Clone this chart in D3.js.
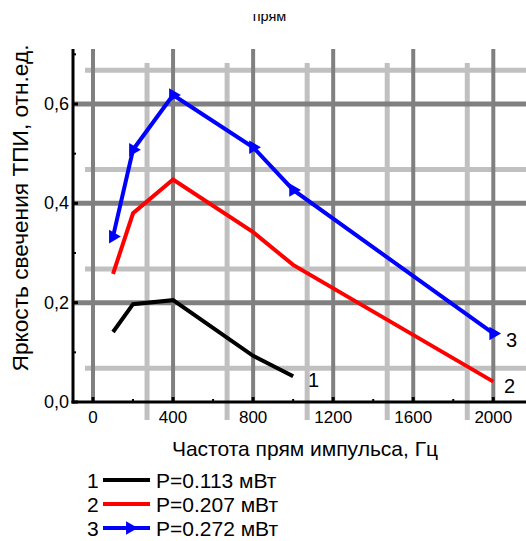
<!DOCTYPE html>
<html><head><meta charset="utf-8">
<script src="https://cdn.jsdelivr.net/npm/d3@7"></script>
<style>
html,body{margin:0;padding:0;background:#fff;}
svg{display:block;font-family:"Liberation Sans",Arial,sans-serif;}
</style></head>
<body>
<svg id="c" width="526" height="541"></svg>
<script>
const freq = [100, 200, 400, 800, 1000, 2000];
const s1 = [0.141, 0.197, 0.205, 0.093, 0.052];
const s2 = [0.258, 0.380, 0.448, 0.342, 0.276, 0.041];
const s3 = [0.333, 0.508, 0.618, 0.513, 0.427, 0.138];
const seriesNames = ["P=0.113 мВт", "P=0.207 мВт", "P=0.272 мВт"];
const seriesIds = ["1", "2", "3"];
const seriesColors = ["#000000", "#ff0000", "#0000ff"];
const xTicks = [0, 400, 800, 1200, 1600, 2000];
const xMinor = [200, 600, 1000, 1400, 1800];
const yTicks = [0.0, 0.2, 0.4, 0.6];
const yTickLabels = ["0,0", "0,2", "0,4", "0,6"];
const yMinor = [0.1, 0.3, 0.5, 0.7];
const lightV = [270, 670, 1070, 1470, 1870];
const lightH = [0.068, 0.268, 0.468, 0.668];
const title = "прям";
const xLabel = "Частота прям импульса, Гц";
const yLabel = "Яркость свечения ТПИ, отн.ед.";

const svg = d3.select("#c");
const x = d3.scaleLinear().domain([0, 2000]).range([93, 493.3]);
const y = d3.scaleLinear().domain([0, 0.6]).range([402, 104]);
const xMinD = x.invert(73);
const yTopD = y.invert(49);

// title (clipped at top)
svg.append("clipPath").attr("id","tc").append("rect").attr("x",0).attr("y",14).attr("width",526).attr("height",20);
svg.append("text").attr("clip-path","url(#tc)").attr("x",269.5).attr("y",21).attr("text-anchor","middle")
  .attr("font-size",14.5).text(title);

// light grid
const g = svg.append("g");
g.selectAll(".lv").data(lightV).join("line")
  .attr("x1",d=>x(d)).attr("x2",d=>x(d)).attr("y1",63).attr("y2",420)
  .attr("stroke","#c0c0c0").attr("stroke-width",5);
g.selectAll(".lh").data(lightH).join("line")
  .attr("x1",85).attr("x2",526).attr("y1",d=>y(d)).attr("y2",d=>y(d))
  .attr("stroke","#c0c0c0").attr("stroke-width",5);
// dark grid
g.selectAll(".dv").data(xTicks).join("line")
  .attr("x1",d=>x(d)).attr("x2",d=>x(d)).attr("y1",y(yTopD)).attr("y2",y(0))
  .attr("stroke","#808080").attr("stroke-width",4);
g.selectAll(".dh").data(yTicks.slice(1)).join("line")
  .attr("x1",x(xMinD)).attr("x2",526).attr("y1",d=>y(d)).attr("y2",d=>y(d))
  .attr("stroke","#808080").attr("stroke-width",5);

// axes
const ax = svg.append("g");
ax.append("line").attr("x1",x(xMinD)).attr("x2",x(xMinD)).attr("y1",y(yTopD)).attr("y2",y(0)+1.5)
  .attr("stroke","#000").attr("stroke-width",3);
ax.append("line").attr("x1",x(xMinD)-1.5).attr("x2",526).attr("y1",y(0)).attr("y2",y(0))
  .attr("stroke","#000").attr("stroke-width",3);
ax.selectAll(".yt").data(yTicks).join("line")
  .attr("x1",x(xMinD)).attr("x2",x(xMinD)+5).attr("y1",d=>y(d)).attr("y2",d=>y(d))
  .attr("stroke","#000").attr("stroke-width",3);
ax.selectAll(".ym").data(yMinor).join("line")
  .attr("x1",x(xMinD)).attr("x2",x(xMinD)+3).attr("y1",d=>y(d)).attr("y2",d=>y(d))
  .attr("stroke","#000").attr("stroke-width",2);
ax.selectAll(".xt").data(xTicks).join("line")
  .attr("x1",d=>x(d)).attr("x2",d=>x(d)).attr("y1",y(0)).attr("y2",y(0)-5)
  .attr("stroke","#000").attr("stroke-width",3);
ax.selectAll(".xm").data(xMinor).join("line")
  .attr("x1",d=>x(d)).attr("x2",d=>x(d)).attr("y1",y(0)).attr("y2",y(0)-3)
  .attr("stroke","#000").attr("stroke-width",2);
ax.selectAll(".ytl").data(yTicks).join("text")
  .attr("x",69).attr("y",d=>y(d)+6).attr("text-anchor","end").attr("font-size",18)
  .text((d,i)=>yTickLabels[i]);
ax.selectAll(".xtl").data(xTicks).join("text")
  .attr("x",d=>x(d)).attr("y",423).attr("text-anchor","middle").attr("font-size",17)
  .text(d=>d);

// axis labels
svg.append("text").attr("x",305).attr("y",456).attr("text-anchor","middle").attr("font-size",21).text(xLabel);
svg.append("text").attr("transform","translate(28,208) rotate(-90)").attr("text-anchor","middle")
  .attr("font-size",22.7).text(yLabel);

// series
const series = [s1, s2, s3];
const line = d3.line().x(d=>x(d[0])).y(d=>y(d[1]));
series.forEach((s,i)=>{
  const pts = s.map((v,j)=>[freq[j], v]);
  svg.append("path").attr("d",line(pts)).attr("fill","none")
    .attr("stroke",seriesColors[i]).attr("stroke-width",4).attr("stroke-linejoin","miter");
});
const tri = d3.symbol().type(d3.symbolTriangle).size(80);
svg.selectAll(".mk").data(s3.map((v,j)=>[freq[j],v])).join("path")
  .attr("d",tri).attr("fill","#0000ff")
  .attr("transform",d=>`translate(${x(d[0])},${y(d[1])}) rotate(90)`);

// end labels
const endLab = [[308, 387], [504, 393], [506, 347]];
endLab.forEach((e,i)=>{
  svg.append("text").attr("x",e[0]).attr("y",e[1]).attr("font-size",20).text(seriesIds[i]);
});

// legend
seriesNames.forEach((n,i)=>{
  const by = 488 + i*24;
  const ly = 480 + i*24;
  svg.append("text").attr("x",87).attr("y",by).attr("font-size",21).text(seriesIds[i]);
  svg.append("line").attr("x1",103).attr("x2",150).attr("y1",ly).attr("y2",ly)
    .attr("stroke",seriesColors[i]).attr("stroke-width",4);
  if(i===2){
    svg.append("path").attr("d",tri).attr("fill","#0000ff")
      .attr("transform",`translate(130,${ly}) rotate(90)`);
  }
  svg.append("text").attr("x",156).attr("y",by).attr("font-size",21).text(n);
});
</script>
</body></html>
